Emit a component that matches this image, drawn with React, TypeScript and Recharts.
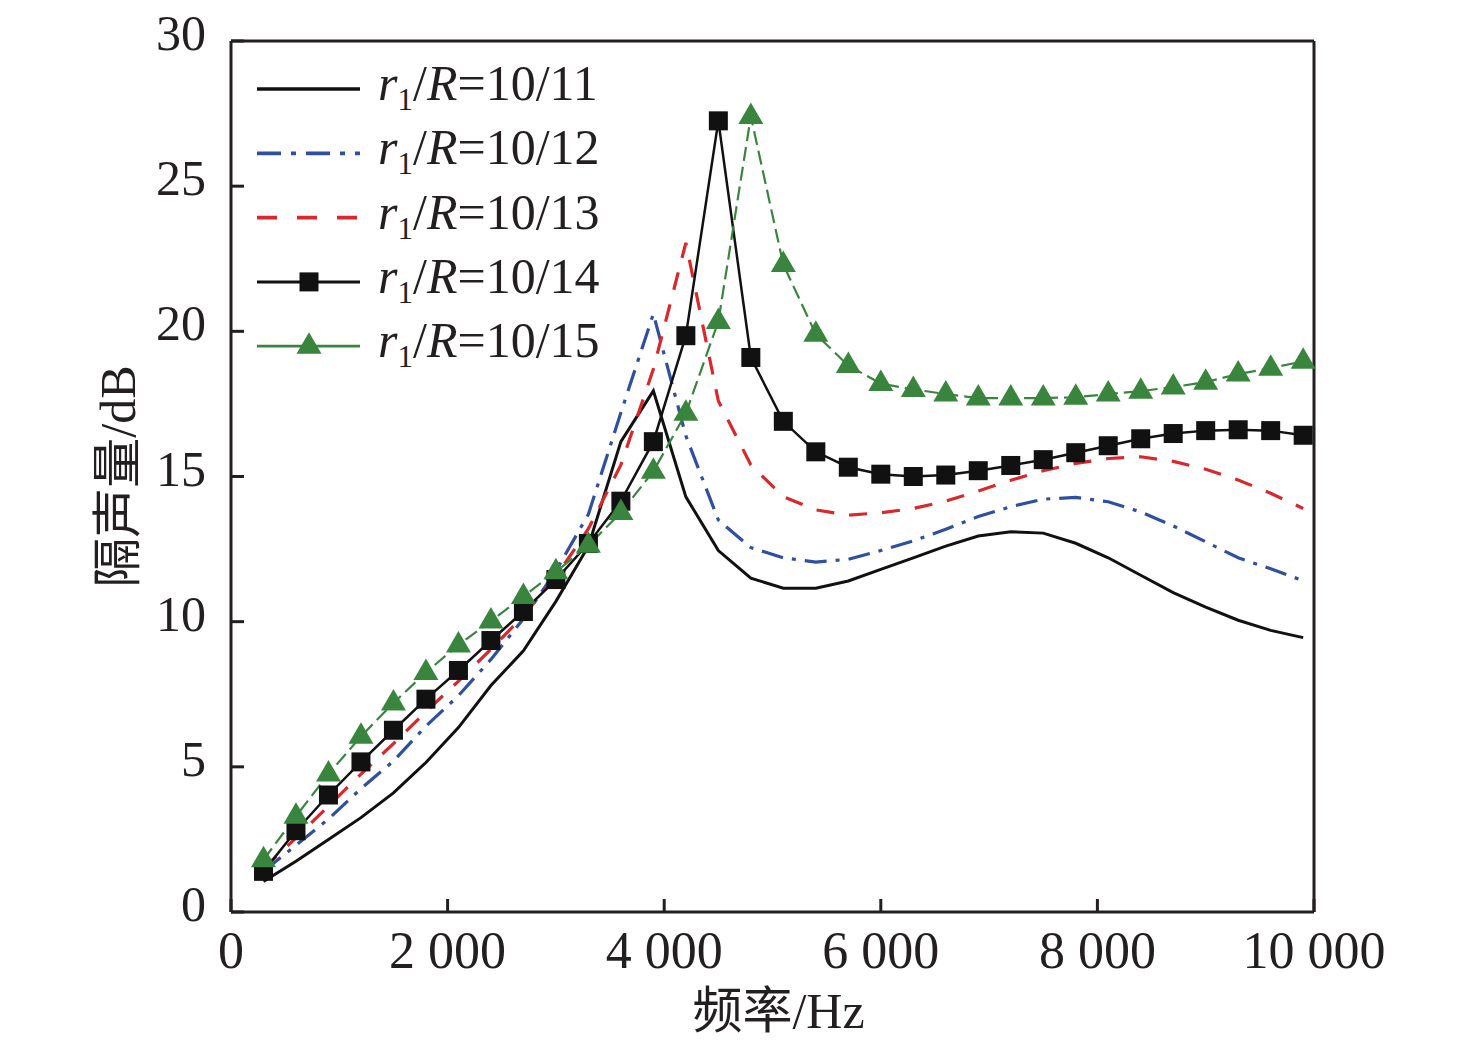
import { Legend, Line, LineChart, ReferenceLine, XAxis, YAxis } from "recharts";

const FREQ = [
  300, 600, 900, 1200, 1500, 1800, 2100, 2400, 2700, 3000, 3300, 3600, 3900,
  4200, 4500, 4800, 5100, 5400, 5700, 6000, 6300, 6600, 6900, 7200, 7500,
  7800, 8100, 8400, 8700, 9000, 9300, 9600, 9900,
];

// r1/R = 10/11
const R11 = [
  1.05, 1.75, 2.5, 3.25, 4.1, 5.15, 6.35, 7.8, 9.0, 10.7, 12.6, 16.2, 17.95,
  14.3, 12.45, 11.5, 11.15, 11.15, 11.4, 11.8, 12.2, 12.6, 12.95, 13.1, 13.05,
  12.7, 12.2, 11.6, 11.0, 10.5, 10.05, 9.7, 9.45,
];
// r1/R = 10/12
const R12 = [
  1.4, 2.3, 3.2, 4.25, 5.2, 6.4, 7.45, 8.7, 10.1, 11.75, 13.7, 17.2, 20.6,
  16.4, 13.5, 12.55, 12.2, 12.05, 12.15, 12.45, 12.78, 13.18, 13.62, 13.96,
  14.22, 14.28, 14.13, 13.78, 13.3, 12.75, 12.2, 11.82, 11.41,
];
// r1/R = 10/13
const R13 = [
  1.5, 2.55, 3.65, 4.75, 5.8, 6.9, 7.95, 9.05, 10.2, 11.55, 13.2, 15.4, 18.7,
  23.05, 17.6, 15.4, 14.3, 13.85, 13.67, 13.75, 13.9, 14.15, 14.5, 14.87, 15.2,
  15.45, 15.62, 15.68, 15.52, 15.25, 14.88, 14.42, 13.9,
];
// r1/R = 10/14
const R14 = [
  1.4, 2.8, 4.03, 5.17, 6.26, 7.33, 8.32, 9.35, 10.35, 11.45, 12.69, 14.15,
  16.2, 19.85, 27.25, 19.1, 16.9, 15.85, 15.32, 15.08, 15.0, 15.05, 15.2,
  15.38, 15.58, 15.82, 16.06, 16.3, 16.48, 16.58, 16.61, 16.58, 16.42,
];
// r1/R = 10/15
const R15 = [
  1.8, 3.3, 4.75, 6.05, 7.2, 8.25, 9.2, 10.02, 10.87, 11.72, 12.63, 13.76,
  15.18, 17.18, 20.34, 27.4, 22.3, 19.9, 18.82, 18.2, 18.0, 17.84, 17.7, 17.7,
  17.7, 17.73, 17.84, 17.94, 18.08, 18.25, 18.53, 18.73, 18.97,
];

const X_TICKS = [0, 2000, 4000, 6000, 8000, 10000];
const Y_TICKS = [0, 5, 10, 15, 20, 25, 30];

const INK = "#231f20";
const FONT = "'Liberation Serif', 'Times New Roman', 'Noto Sans CJK SC', serif";

type Marker = "none" | "square" | "triangle";

const SERIES: {
  key: string;
  label: string;
  color: string;
  width: number;
  dash?: string;
  legendDash?: string;
  marker: Marker;
}[] = [
  { key: "r11", label: "10/11", color: "#111111", width: 3, marker: "none" },
  { key: "r12", label: "10/12", color: "#2f4f9f", width: 3.2, dash: "22 9 4 9", legendDash: "24 10 5 10", marker: "none" },
  { key: "r13", label: "10/13", color: "#d8282c", width: 3.2, dash: "18 15", legendDash: "20 20", marker: "none" },
  { key: "r14", label: "10/14", color: "#111111", width: 2.5, marker: "square" },
  { key: "r15", label: "10/15", color: "#3a853e", width: 2.2, dash: "14 6", marker: "triangle" },
];

const data = FREQ.map((f, i) => ({
  f,
  r11: R11[i],
  r12: R12[i],
  r13: R13[i],
  r14: R14[i],
  r15: R15[i],
}));

function markerShape(kind: Marker, cx: number, cy: number, color: string, key?: string) {
  if (kind === "square") {
    return <rect key={key} x={cx - 9.5} y={cy - 9.5} width={19} height={19} fill={color} />;
  }
  if (kind === "triangle") {
    const pts = `${cx},${cy - 14} ${cx - 12.5},${cy + 7.5} ${cx + 12.5},${cy + 7.5}`;
    return <polygon key={key} points={pts} fill={color} />;
  }
  return null;
}

function makeDot(kind: Marker, color: string) {
  return (props: any) => {
    const { cx, cy, index } = props;
    if (cx == null || cy == null) return <g key={`e-${index}`} />;
    return markerShape(kind, cx, cy, color, `${kind}-${index}`);
  };
}

function XTick(props: any) {
  const { x, y, payload } = props;
  const v = payload.value as number;
  const text = v >= 1000 ? `${v / 1000} 000` : `${v}`;
  return (
    <text x={x} y={y + 36} textAnchor="middle" fontSize={52} fill={INK} fontFamily={FONT}>
      {text}
    </text>
  );
}

function YTick(props: any) {
  const { x, y, payload } = props;
  return (
    <text x={x} y={y + 9} textAnchor="end" fontSize={50} fill={INK} fontFamily={FONT}>
      {payload.value}
    </text>
  );
}

function LegendBox() {
  return (
    <svg width={400} height={330} style={{ overflow: "visible", display: "block" }}>
      {SERIES.map((s, i) => {
        const y = 25 + i * 64.3;
        return (
          <g key={s.key}>
            <line
              x1={27}
              x2={130}
              y1={y}
              y2={y}
              stroke={s.color}
              strokeWidth={s.width + 0.5}
              strokeDasharray={s.legendDash}
            />
            {markerShape(s.marker, 79, y, s.color)}
            <text x={148} y={y + 11} fontSize={50} fill={INK} fontFamily={FONT}>
              <tspan fontStyle="italic">r</tspan>
              <tspan fontSize={31} dy={10}>1</tspan>
              <tspan dy={-10}>/</tspan>
              <tspan fontStyle="italic">R</tspan>
              <tspan>={s.label}</tspan>
            </text>
          </g>
        );
      })}
    </svg>
  );
}

export default function App() {
  return (
    <div style={{ position: "absolute", left: 0, top: 0, background: "#fff" }}>
      <LineChart
        width={1476}
        height={1051}
        data={data}
        margin={{ top: 41, right: 162, bottom: 0, left: 0 }}
      >
        <XAxis
          dataKey="f"
          type="number"
          domain={[0, 10000]}
          ticks={X_TICKS}
          interval={0}
          height={139}
          axisLine={{ stroke: INK, strokeWidth: 3 }}
          tickLine={{ stroke: INK, strokeWidth: 3 }}
          tickSize={-13}
          tickMargin={33}
          tick={<XTick />}
          label={(props: any) => {
            const vb = props.viewBox;
            return (
              <text
                x={vb.x + vb.width / 2 + 6}
                y={vb.y + 116}
                textAnchor="middle"
                fontSize={50}
                fill={INK}
                fontFamily={FONT}
              >
                频率/Hz
              </text>
            );
          }}
        />
        <YAxis
          type="number"
          domain={[0, 30]}
          ticks={Y_TICKS}
          interval={0}
          width={231}
          axisLine={{ stroke: INK, strokeWidth: 3 }}
          tickLine={{ stroke: INK, strokeWidth: 3 }}
          tickSize={-13}
          tickMargin={38}
          tick={<YTick />}
          label={(props: any) => {
            const vb = props.viewBox;
            const cx = 118;
            const cy = vb.y + vb.height / 2;
            return (
              <text
                x={cx}
                y={cy}
                transform={`rotate(-90 ${cx} ${cy})`}
                textAnchor="middle"
                dominantBaseline="central"
                fontSize={50}
                fill={INK}
                fontFamily={FONT}
              >
                隔声量/dB
              </text>
            );
          }}
        />
        <ReferenceLine y={30} stroke={INK} strokeWidth={3} />
        <ReferenceLine x={10000} stroke={INK} strokeWidth={3} />
        {SERIES.map((s) => (
          <Line
            key={s.key}
            dataKey={s.key}
            type="linear"
            stroke={s.color}
            strokeWidth={s.width}
            strokeDasharray={s.dash}
            dot={s.marker === "none" ? false : makeDot(s.marker, s.color)}
            activeDot={false}
            isAnimationActive={false}
          />
        ))}
        <Legend
          layout="vertical"
          align="center"
          verticalAlign="middle"
          content={() => <LegendBox />}
          wrapperStyle={{ left: 230, top: 64, width: 400, height: 330 }}
        />
      </LineChart>
    </div>
  );
}
